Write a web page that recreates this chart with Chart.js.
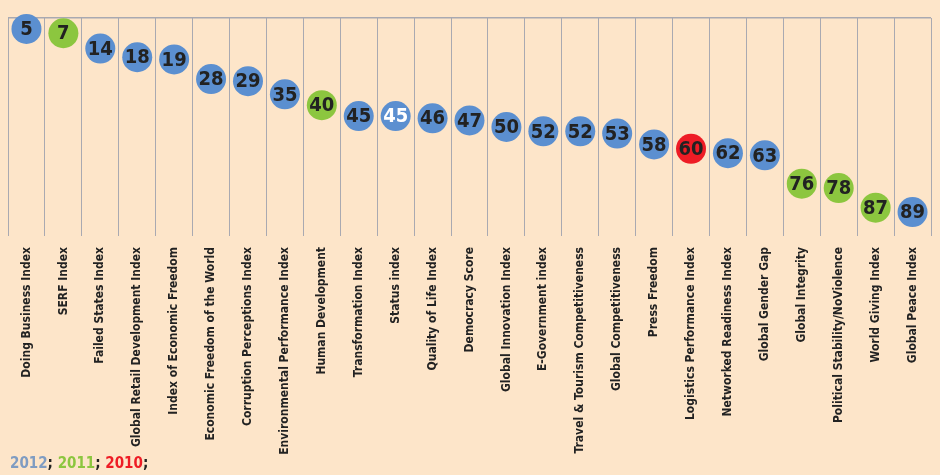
<!DOCTYPE html>
<html>
<head>
<meta charset="utf-8">
<script src="https://cdn.jsdelivr.net/npm/chart.js@4/dist/chart.umd.min.js"></script>
<style>
  html, body { margin: 0; padding: 0; background: #fde5c9; }
  #wrap { position: relative; width: 940px; height: 475px; background: #fde5c9; overflow: hidden; }
  #legend { position: absolute; left: 10px; top: 454px; font-family: "DejaVu Sans Condensed", "Liberation Sans Narrow", sans-serif; font-weight: bold; font-size: 15px; color: #222; }
</style>
</head>
<body>
<div id="wrap">
  <canvas id="c" width="940" height="475"></canvas>
  <div id="legend"><span style="color:#7f9cc2">2012</span>; <span style="color:#8cc63f">2011</span>; <span style="color:#ee1c25">2010</span>;</div>
</div>
<script>
const categories = [
  "Doing Business Index", "SERF Index", "Failed States Index", "Global Retail Development Index",
  "Index of Economic Freedom", "Economic Freedom of the World", "Corruption Perceptions Index",
  "Environmental Performance Index", "Human Development", "Transformation Index", "Status index",
  "Quality of Life Index", "Democracy Score", "Global Innovation Index", "E-Government index",
  "Travel & Tourism Competitiveness", "Global Competitiveness", "Press Freedom",
  "Logistics Performance Index", "Networked Readiness Index", "Global Gender Gap",
  "Global Integrity", "Political Stability/NoViolence", "World Giving Index", "Global Peace Index"
];
const ranks = [5, 7, 14, 18, 19, 28, 29, 35, 40, 45, 45, 46, 47, 50, 52, 52, 53, 58, 60, 62, 63, 76, 78, 87, 89];
const years = [2012, 2011, 2012, 2012, 2012, 2012, 2012, 2012, 2011, 2012, 2012, 2012, 2012, 2012, 2012, 2012, 2012, 2012, 2010, 2012, 2012, 2011, 2011, 2011, 2012];
const yearColors = { 2012: "#5b8fd0", 2011: "#8cc63f", 2010: "#ee1c25" };
const whiteLabelIndex = [10];

const FONT = '"DejaVu Sans Condensed", "Liberation Sans Narrow", sans-serif';

const valueLabels = {
  id: "valueLabels",
  afterDatasetsDraw(chart) {
    const ctx = chart.ctx;
    const meta = chart.getDatasetMeta(0);
    ctx.save();
    ctx.font = "bold 20px " + FONT;
    ctx.textAlign = "center";
    ctx.textBaseline = "middle";
    meta.data.forEach((pt, i) => {
      ctx.fillStyle = whiteLabelIndex.includes(i) ? "#ffffff" : "#222222";
      ctx.fillText(String(ranks[i]), pt.x, pt.y + 1);
    });
    ctx.restore();
  }
};

new Chart(document.getElementById("c"), {
  type: "bubble",
  data: {
    labels: categories,
    datasets: [{
      data: categories.map((c, i) => ({ x: c, y: ranks[i] })),
      radius: 15,
      hoverRadius: 0,
      borderWidth: 0,
      backgroundColor: years.map(y => yearColors[y]),
      borderColor: years.map(y => yearColors[y]),
      clip: false
    }]
  },
  options: {
    responsive: false,
    animation: false,
    events: [],
    layout: { autoPadding: false, padding: { left: 8, right: 9, top: 18, bottom: 0 } },
    plugins: { legend: { display: false }, tooltip: { enabled: false } },
    scales: {
      x: {
        type: "category",
        labels: categories,
        offset: true,
        grid: { offset: true, color: "#a9a9b1", lineWidth: 1, drawTicks: false },
        border: { display: false },
        ticks: {
          autoSkip: false,
          maxRotation: 90,
          minRotation: 90,
          padding: 11,
          color: "#222",
          font: { family: FONT, size: 12, weight: "bold" }
        },
        afterFit(scale) {
          scale.height = 239;
          scale.paddingLeft = 0;
          scale.paddingRight = 0;
        }
      },
      y: {
        type: "linear",
        min: 0,
        max: 100,
        reverse: true,
        ticks: { display: false, stepSize: 100 },
        border: { display: false },
        grid: {
          drawTicks: false,
          color: (c) => (c.tick && c.tick.value === 0 ? "#a9a9b1" : "rgba(0,0,0,0)"),
          lineWidth: 1.5
        },
        afterFit(scale) { scale.width = 0; }
      }
    }
  },
  plugins: [valueLabels]
});
</script>
</body>
</html>
